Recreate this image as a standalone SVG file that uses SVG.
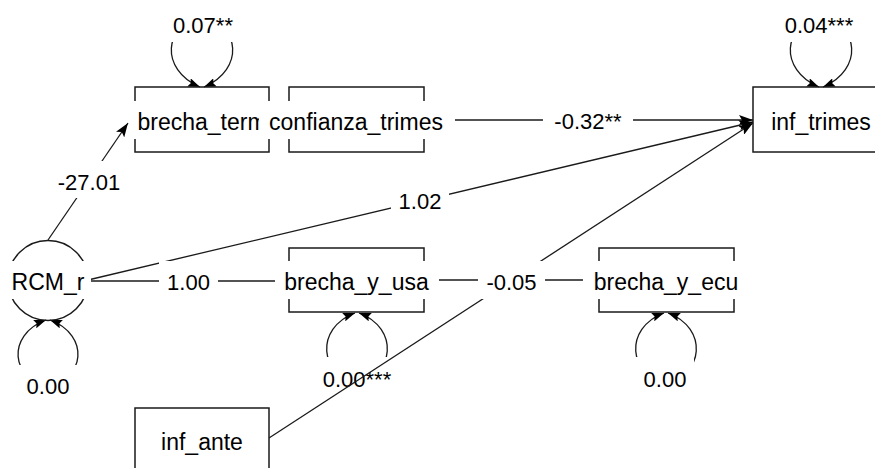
<svg xmlns="http://www.w3.org/2000/svg" width="875" height="468" viewBox="0 0 875 468">
<style>
.box{fill:none;stroke:#1a1a1a;stroke-width:1.5}
.edge{fill:none;stroke:#1a1a1a;stroke-width:1.3}
.lbl{font-family:"Liberation Sans",Arial,sans-serif;font-size:22px;text-anchor:middle;fill:#000}
.node{font-size:23px}
.bg{fill:#fff}
</style>
<defs>
<marker id="arr" viewBox="0 0 14 10" refX="14" refY="5" markerWidth="14" markerHeight="10" markerUnits="userSpaceOnUse" orient="auto">
<path d="M0,0 L14,5 L0,10 L3,5 z" fill="#000"/>
</marker>
<marker id="arrs" viewBox="0 0 12 9" refX="12" refY="4.5" markerWidth="12" markerHeight="9" markerUnits="userSpaceOnUse" orient="auto-start-reverse">
<path d="M0,0 L12,4.5 L0,9 L2,4.5 z" fill="#000"/>
</marker>
</defs>
<rect width="875" height="468" fill="#fff"/>
<g id="connectors">
<g id="e-rcm-bterm">
<path class="edge" d="M48,240 L128,123" marker-end="url(#arr)"/>
<rect class="bg" x="54" y="161" width="68" height="37"/>
<text class="lbl" x="89" y="190">-27.01</text>
</g>
<g id="e-conf-inf">
<path class="edge" d="M424,120 L753,120" marker-end="url(#arr)"/>
<rect class="bg" x="543" y="101" width="90" height="38"/>
<text class="lbl" x="588" y="129">-0.32**</text>
</g>
<g id="e-rcm-inf">
<path class="edge" d="M88,280 L753,122" marker-end="url(#arr)"/>
<rect class="bg" x="391" y="180" width="58" height="38"/>
<text class="lbl" x="420" y="209">1.02</text>
</g>
<g id="e-rcm-usa">
<path class="edge" d="M88,281 L289,281" marker-end="url(#arr)"/>
<rect class="bg" x="159" y="261" width="59" height="38"/>
<text class="lbl" x="188.5" y="290">1.00</text>
</g>
<g id="e-usa-ecu">
<path class="edge" d="M424,280 L599,280" marker-end="url(#arr)"/>
</g>
<g id="v-bterm">
<path class="edge" d="M200,87 C159,70 164,22 202,22 C240,22 245,70 204,87" marker-start="url(#arrs)" marker-end="url(#arrs)"/>
<rect class="bg" x="165" y="4" width="76" height="38"/>
<text class="lbl" x="203" y="33">0.07**</text>
</g>
<g id="v-inf">
<path class="edge" d="M819,87 C778,70 783,22 821,22 C859,22 864,70 823,87" marker-start="url(#arrs)" marker-end="url(#arrs)"/>
<rect class="bg" x="778" y="4" width="82" height="38"/>
<text class="lbl" x="819" y="33">0.04***</text>
</g>
<g id="v-rcm">
<path class="edge" d="M46,320 C5,335 12,382 48,382 C84,382 91,335 50,320" marker-start="url(#arrs)" marker-end="url(#arrs)"/>
<rect class="bg" x="19" y="365" width="58" height="38"/>
<text class="lbl" x="48" y="394">0.00</text>
</g>
<g id="v-usa">
<path class="edge" d="M355,313 C314,328 320,378 357,378 C394,378 400,328 359,313" marker-start="url(#arrs)" marker-end="url(#arrs)"/>
<rect class="bg" x="316" y="357" width="82" height="38"/>
<text class="lbl" x="357" y="387">0.00***</text>
</g>
<g id="v-ecu">
<path class="edge" d="M664,313 C623,328 629,378 666,378 C703,378 709,328 668,313" marker-start="url(#arrs)" marker-end="url(#arrs)"/>
<rect class="bg" x="636" y="357" width="58" height="38"/>
<text class="lbl" x="665" y="387">0.00</text>
</g>
<g id="e-ante-inf">
<path class="edge" d="M269,438 L753,123" marker-end="url(#arr)"/>
<rect class="bg" x="478" y="261" width="67" height="38"/>
<text class="lbl" x="511.5" y="290">-0.05</text>
</g>
</g>
<g id="node-brecha_term">
<rect class="box" x="135" y="87" width="134" height="65"/>
<rect class="bg" x="129" y="101" width="148" height="38"/>
<text class="lbl node" x="202" y="130">brecha_term</text>
</g>
<g id="node-confianza_trimes">
<rect class="box" x="289" y="87" width="135" height="65"/>
<rect class="bg" x="259" y="101" width="196" height="38"/>
<text class="lbl node" x="356" y="130">confianza_trimes</text>
</g>
<g id="node-inf_trimes">
<rect class="box" x="753" y="87" width="136" height="65"/>
<rect class="bg" x="762" y="101" width="118" height="38"/>
<text class="lbl node" x="821" y="130">inf_trimes</text>
</g>
<g id="node-RCM_r">
<circle class="box" cx="48" cy="280.5" r="40"/>
<rect class="bg" x="4" y="261" width="87" height="38"/>
<text class="lbl node" x="48" y="290">RCM_r</text>
</g>
<g id="node-brecha_y_usa">
<rect class="box" x="289" y="248" width="135" height="64"/>
<rect class="bg" x="275" y="261" width="164" height="38"/>
<text class="lbl node" x="356.5" y="290">brecha_y_usa</text>
</g>
<g id="node-brecha_y_ecu">
<rect class="box" x="599" y="248" width="135" height="64"/>
<rect class="bg" x="583" y="261" width="165" height="38"/>
<text class="lbl node" x="666" y="290">brecha_y_ecu</text>
</g>
<g id="node-inf_ante">
<rect class="box" x="135" y="408" width="134" height="65"/>
<text class="lbl node" x="202" y="450">inf_ante</text>
</g>
</svg>
